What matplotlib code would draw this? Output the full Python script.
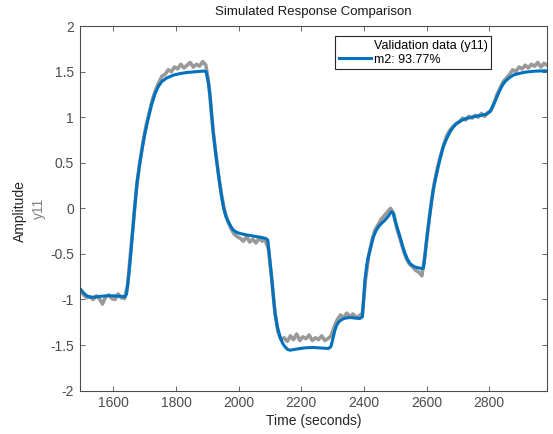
import numpy as np
import matplotlib
matplotlib.use("Agg")
import matplotlib.pyplot as plt
from matplotlib.lines import Line2D

plt.rcParams['font.family'] = ['Liberation Sans', 'DejaVu Sans']

# Validation data (y11), sampled every 10 s from 1495 s
data_t0 = 1495
data_dt = 10
data_y = [
    -0.90, -0.95, -0.98, -0.97, -1.00, -0.96, -0.99, -1.05, -0.97, -0.95,
    -0.99, -1.00, -0.94, -0.98, -0.99, -0.85, -0.48, -0.10, 0.27, 0.52,
    0.74, 0.92, 1.06, 1.20, 1.30, 1.38, 1.45, 1.47, 1.52, 1.50,
    1.55, 1.53, 1.58, 1.54, 1.57, 1.60, 1.55, 1.58, 1.56, 1.61,
    1.57, 1.35, 0.95, 0.65, 0.38, 0.15, -0.03, -0.14, -0.22, -0.28,
    -0.31, -0.33, -0.36, -0.31, -0.37, -0.34, -0.38, -0.33, -0.36, -0.35,
    -0.45, -0.76, -1.12, -1.35, -1.44, -1.42, -1.46, -1.40, -1.44, -1.38,
    -1.45, -1.41, -1.43, -1.39, -1.45, -1.42, -1.44, -1.40, -1.45, -1.43,
    -1.40, -1.30, -1.22, -1.17, -1.20, -1.15, -1.19, -1.16, -1.20, -1.18,
    -1.15, -0.78, -0.52, -0.36, -0.24, -0.18, -0.12, -0.08, -0.04, 0.00,
    -0.06, -0.22, -0.33, -0.45, -0.55, -0.61, -0.64, -0.68, -0.70, -0.74,
    -0.50, -0.22, 0.07, 0.28, 0.45, 0.58, 0.70, 0.80, 0.86, 0.90,
    0.93, 0.95, 0.99, 0.97, 1.01, 0.99, 1.02, 1.00, 1.04, 1.01,
    1.05, 1.07, 1.15, 1.25, 1.32, 1.39, 1.43, 1.47, 1.52, 1.50,
    1.55, 1.53, 1.57, 1.54, 1.58, 1.56, 1.60, 1.55, 1.59, 1.57,
]

# model m2 simulated response
m2_t = [1493, 1505, 1515, 1526, 1540, 1560, 1580, 1600, 1620, 1637,
        1642, 1650, 1659, 1667, 1675, 1683, 1691, 1701, 1712, 1722,
        1733, 1743, 1754, 1770, 1792, 1812, 1834, 1860, 1887, 1896,
        1903, 1909, 1914, 1919, 1927, 1935, 1943, 1951, 1959, 1967,
        1975, 1983, 1993, 2004, 2025, 2047, 2070, 2087, 2093, 2099,
        2106, 2111, 2116, 2124, 2132, 2140, 2148, 2156, 2164, 2175,
        2196, 2215, 2238, 2262, 2286, 2294, 2298, 2302, 2307, 2313,
        2320, 2329, 2340, 2355, 2370, 2387, 2395, 2399, 2403, 2409,
        2414, 2422, 2430, 2438, 2446, 2456, 2467, 2478, 2485, 2489,
        2494, 2499, 2507, 2515, 2523, 2531, 2539, 2547, 2558, 2568,
        2584, 2590, 2594, 2599, 2605, 2613, 2621, 2629, 2637, 2645,
        2653, 2664, 2675, 2685, 2696, 2712, 2728, 2744, 2760, 2776,
        2792, 2802, 2810, 2818, 2826, 2834, 2842, 2850, 2863, 2877,
        2893, 2909, 2930, 2951, 2986]
m2_y = [-0.88, -0.93, -0.96, -0.975, -0.975, -0.965, -0.96, -0.96, -0.965, -0.97,
        -0.94, -0.70, -0.35, -0.02, 0.27, 0.47, 0.64, 0.83, 1.00, 1.14,
        1.26, 1.335, 1.39, 1.43, 1.462, 1.478, 1.49, 1.498, 1.506, 1.50,
        1.38, 1.22, 1.02, 0.82, 0.59, 0.38, 0.18, 0.016, -0.09, -0.148,
        -0.20, -0.239, -0.262, -0.276, -0.292, -0.305, -0.318, -0.331, -0.35, -0.55,
        -0.79, -0.98, -1.154, -1.31, -1.41, -1.48, -1.52, -1.548, -1.557, -1.55,
        -1.538, -1.53, -1.527, -1.532, -1.538, -1.52, -1.47, -1.41, -1.34, -1.282,
        -1.245, -1.22, -1.205, -1.198, -1.203, -1.209, -1.19, -1.00, -0.79, -0.62,
        -0.532, -0.42, -0.313, -0.25, -0.203, -0.165, -0.13, -0.085, -0.05, -0.038,
        -0.06, -0.13, -0.22, -0.313, -0.41, -0.495, -0.56, -0.605, -0.635, -0.649,
        -0.66, -0.655, -0.55, -0.38, -0.203, 0.0, 0.20, 0.335, 0.456, 0.57,
        0.675, 0.765, 0.84, 0.89, 0.932, 0.965, 0.987, 1.0, 1.012, 1.022,
        1.034, 1.06, 1.11, 1.17, 1.235, 1.297, 1.35, 1.389, 1.43, 1.462,
        1.478, 1.49, 1.50, 1.506, 1.509]

labels = ['Validation data (y11)', 'm2: 93.77%']
xticks = [1600, 1800, 2000, 2200, 2400, 2600, 2800]
yticks = [-2, -1.5, -1, -0.5, 0, 0.5, 1, 1.5, 2]
ytick_labels = ['-2', '-1.5', '-1', '-0.5', '0', '0.5', '1', '1.5', '2']

data_t = data_t0 + data_dt * np.arange(len(data_y))

fig = plt.figure(figsize=(5.53, 4.34), dpi=100)
ax = fig.add_axes([0.144, 0.100, 0.846, 0.840])

axis_col = '#4d4d4d'
ax.plot(data_t, data_y, color='#999999', lw=2.6)
ax.plot(m2_t, m2_y, color='#0072BD', lw=2.2)

ax.set_xlim(1492, 2986)
ax.set_ylim(-2, 2)
ax.set_xticks(xticks)
ax.set_yticks(yticks)
ax.set_yticklabels(ytick_labels)
ax.tick_params(direction='in', length=3.6, width=0.6, colors=axis_col,
               labelsize=10, top=True, right=True, pad=4)
for sp in ax.spines.values():
    sp.set_color(axis_col)
    sp.set_linewidth(0.8)

ax.set_title('Simulated Response Comparison', fontsize=9.5, color='#1a1a1a', pad=8)
ax.set_xlabel('Time (seconds)', fontsize=10, color='#262626', labelpad=3)
fig.text(0.036, 0.513, 'Amplitude', rotation=90, fontsize=10, color='#262626',
         ha='center', va='center')
fig.text(0.071, 0.521, 'y11', rotation=90, fontsize=10, color='#7f7f7f',
         ha='center', va='center')

handles = [Line2D([], [], color='none'),
           Line2D([], [], color='#0072BD', lw=2.2)]
leg = ax.legend(handles, labels, loc='upper left', bbox_to_anchor=(0.5455, 0.973),
                fontsize=9, fancybox=False, framealpha=1, edgecolor='#262626',
                handlelength=2.6, handletextpad=0.2, borderpad=0.3,
                labelspacing=0.15, borderaxespad=0)
leg.get_frame().set_linewidth(0.8)

fig.savefig('out.png', dpi=100)
